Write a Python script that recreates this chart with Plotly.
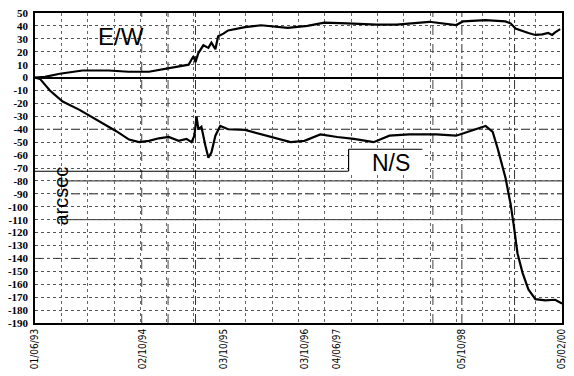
import plotly.graph_objects as go

# ---- data (x = sample index along the record, y = arcsec) ----
ew_idx = [0, 7.5, 18.8, 36, 56, 71, 86.5, 101.5, 111, 116.6, 118.8, 120.3, 121.8, 124, 127.8,
          131.6, 133.9, 136.9, 139, 143, 146.6, 159.4, 171.5, 191.8, 206.8, 219.6, 237, 259.4,
          274.5, 299.3, 319.6, 324.9, 342, 357, 361, 364.7, 374.5, 379.8, 385, 389.5, 392.5,
          394.8, 398.6]
ew_val = [0, 0.5, 3, 5.5, 5.5, 4.5, 4.5, 7, 8.5, 10, 14, 16.5, 12, 19, 25,
          23, 27, 22, 32, 34, 36.5, 39, 40.5, 38.5, 40, 42.5, 42, 41,
          41, 43.2, 40.7, 43.5, 44.5, 43.5, 42, 38, 34.5, 33, 33.5, 34.5, 33,
          35, 37.5]

ns_idx = [0, 3.8, 11.3, 21, 33.8, 46.6, 61.7, 71.4, 79, 86.5, 94, 101.5, 109, 115, 118.8,
          121, 121.8, 122.6, 124, 126.3, 129.3, 131.6, 133.9, 136.9, 140.6, 146.6, 159.4,
          171.5, 184.2, 194, 204.5, 216.6, 229.4, 242, 257, 269, 284, 304.6, 319.6, 334.6,
          342, 347.4, 351.2, 357.2, 361, 363.2, 366.2, 370, 374.5, 379.8, 387.3, 394.8, 400]
ns_val = [0, -1, -10, -18.5, -25, -32.5, -41.5, -48, -50, -49, -47, -46, -49, -47.5, -50,
          -45, -35, -30, -40, -38, -52.5, -62, -58, -45, -37.5, -40, -40.5,
          -44, -47.5, -50, -49, -44, -46, -47.5, -50, -45, -44, -44, -45, -40,
          -37.5, -42, -55, -78, -98, -113, -136, -151, -164, -171.5, -172.5, -172, -175]

x_tick_pos = [0, 82, 143, 205, 229, 324, 400]
x_tick_txt = ["01/06/93", "02/10/94", "03/10/95", "03/10/96", "04/06/97", "05/10/98", "05/02/00"]
y_tick_vals = list(range(50, -191, -10))
y_tick_txt = [str(v) for v in y_tick_vals]
strong_grid_y = [-40, -90, -140]
solid_grid_y = [-80, -110]
strong_grid_x = [81, 101, 302]
solid_grid_x = [121.8, 324, 364]

fig = go.Figure()
fig.add_trace(go.Scatter(x=ew_idx, y=ew_val, mode="lines", name="E/W",
                         line=dict(color="black", width=2.2)))
fig.add_trace(go.Scatter(x=ns_idx, y=ns_val, mode="lines", name="N/S",
                         line=dict(color="black", width=2.2)))

shapes = []
for yv in strong_grid_y:
    shapes.append(dict(type="line", xref="paper", x0=0, x1=1, yref="y", y0=yv, y1=yv,
                       line=dict(color="#222", width=1, dash="dashdot"), layer="between"))
for yv in solid_grid_y:
    shapes.append(dict(type="line", xref="paper", x0=0, x1=1, yref="y", y0=yv, y1=yv,
                       line=dict(color="#222", width=1), layer="between"))
for xv in strong_grid_x:
    shapes.append(dict(type="line", xref="x", x0=xv, x1=xv, yref="paper", y0=0, y1=1,
                       line=dict(color="#444", width=1, dash="dash"), layer="between"))
for xv in solid_grid_x:
    shapes.append(dict(type="line", xref="x", x0=xv, x1=xv, yref="paper", y0=0, y1=1,
                       line=dict(color="#333", width=1, dash="dashdot"), layer="between"))
# white patch behind the "arcsec" label
shapes.append(dict(type="rect", xref="paper", x0=0, x1=0.05, yref="y", y0=-73, y1=-118,
                   fillcolor="white", line=dict(width=0), layer="between"))
# line from left edge to N/S box and the box itself
shapes.append(dict(type="line", xref="x", x0=0, x1=238, yref="y", y0=-72.5, y1=-72.5,
                   line=dict(color="black", width=1.2), layer="between"))
shapes.append(dict(type="rect", xref="x", x0=238, x1=296, yref="y", y0=-55.5, y1=-74,
                   fillcolor="white", line=dict(width=0), layer="between"))
shapes.append(dict(type="line", xref="x", x0=238, x1=238, yref="y", y0=-55.5, y1=-72.5,
                   line=dict(color="black", width=1.2), layer="between"))
shapes.append(dict(type="line", xref="x", x0=238, x1=294, yref="y", y0=-55.5, y1=-55.5,
                   line=dict(color="black", width=1), layer="between"))

fig.update_layout(
    width=574, height=376,
    margin=dict(l=35, r=7, t=11, b=48),
    paper_bgcolor="white", plot_bgcolor="white",
    showlegend=False,
    shapes=shapes,
    annotations=[
        dict(text="E/W", x=65.5, y=31.8, xref="x", yref="y", showarrow=False,
             font=dict(family="Liberation Sans, Arial", size=24, color="black")),
        dict(text="N/S", x=270, y=-66.5, xref="x", yref="y", showarrow=False,
             font=dict(family="Liberation Sans, Arial", size=23, color="black")),
        dict(text="arcsec", x=0.025, y=-92, xref="paper", yref="y", showarrow=False,
             textangle=-90,
             font=dict(family="Liberation Sans, Arial", size=20, color="black")),
    ],
)
fig.update_xaxes(
    range=[0, 400], tickvals=x_tick_pos, ticktext=x_tick_txt, tickangle=-90,
    tickfont=dict(family="DejaVu Sans Condensed, Liberation Sans Narrow, Arial", size=10, color="black"),
    showline=True, linecolor="black", linewidth=1.5, mirror=True,
    showgrid=False,
    ticks="", zeroline=False,
    minor=dict(dtick=20, tick0=0, showgrid=True, gridcolor="#666", griddash="dot", gridwidth=1),
)
fig.update_yaxes(
    range=[-190, 50], tickvals=y_tick_vals, ticktext=y_tick_txt,
    tickfont=dict(family="Liberation Serif, Times New Roman", size=11, color="black", weight="bold"),
    showline=True, linecolor="black", linewidth=1.5, mirror=True,
    showgrid=True, gridcolor="#555", griddash="dot", gridwidth=1,
    zeroline=True, zerolinecolor="black", zerolinewidth=1.5,
    ticks="", ticklabelstandoff=3,
)

fig.write_html("out.html")
